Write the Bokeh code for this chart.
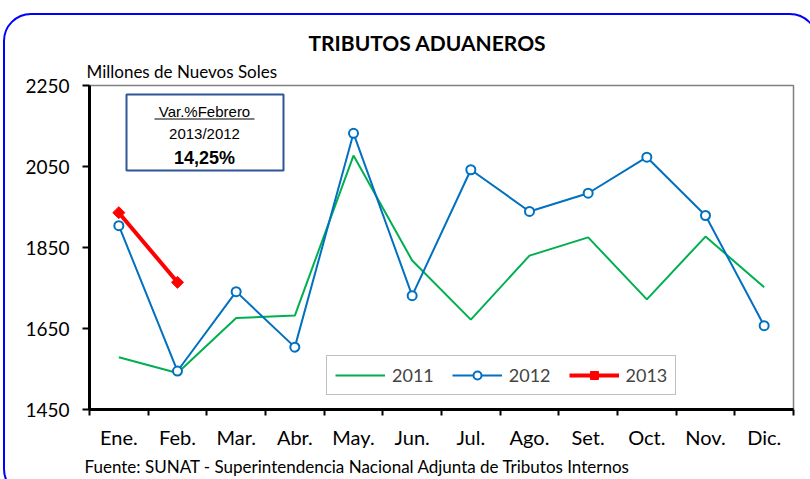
from bokeh.plotting import figure
from bokeh.models import (Range1d, FixedTicker, LinearAxis, Legend, LegendItem,
                          Label, BoxAnnotation, Title, InlineStyleSheet)
from bokeh.embed import file_html
from bokeh.resources import INLINE
import numpy as np

months = ["Ene.", "Feb.", "Mar.", "Abr.", "May.", "Jun.", "Jul.", "Ago.",
          "Set.", "Oct.", "Nov.", "Dic."]
y2011 = [1579, 1540, 1676, 1682, 2077, 1818, 1672, 1830, 1875, 1722, 1877, 1752]
y2012 = [1904, 1545, 1741, 1604, 2132, 1731, 2042, 1939, 1984, 2073, 1929, 1657]
y2013 = [1936, 1764]
y_ticks = [1450, 1650, 1850, 2050, 2250]

title_text = "TRIBUTOS ADUANEROS"
unit_text = "Millones de Nuevos Soles"
source_text = "Fuente: SUNAT - Superintendencia Nacional Adjunta de Tributos Internos"
box_lines = ["Var.%Febrero", "2013/2012", "14,25%"]

FONT = "Lato"
W, H = 810, 479

xs = np.arange(len(months)) + 0.5

p = figure(width=W, height=H, output_backend="svg", toolbar_location=None,
           x_range=Range1d(0, len(months)), y_range=Range1d(y_ticks[0], y_ticks[-1]),
           x_axis_type=None, y_axis_type=None)
p.min_border_left = 89
p.min_border_top = 85
p.min_border_right = 17
p.min_border_bottom = 70
p.grid.visible = False
p.outline_line_color = "#808080"
p.outline_line_width = 1.5
p.background_fill_color = "white"
p.border_fill_color = "white"

# titles
p.title.text = title_text
p.title.align = "left"
p.title.offset = 219
p.title.text_font = FONT
p.title.text_font_size = "21px"
p.title.text_font_style = "bold"
p.title.text_color = "black"
p.title.standoff = 0

sub = Title(text=unit_text, align="left", offset=-3, text_font=FONT,
            text_font_size="17px", text_font_style="normal",
            text_color="black", standoff=8)
p.add_layout(sub, "above")

# x axis: labels at centres, ticks at boundaries
xax = LinearAxis(ticker=FixedTicker(ticks=list(xs),
                                    minor_ticks=list(range(len(months) + 1))))
xax.major_label_overrides = {float(x): m for x, m in zip(xs, months)}
xax.major_tick_line_color = None
xax.major_tick_in = 0
xax.major_tick_out = 8
xax.major_label_standoff = 7
xax.minor_tick_in = 0
xax.minor_tick_out = 6
xax.minor_tick_line_color = "black"
xax.minor_tick_line_width = 2
xax.axis_line_color = "black"
xax.axis_line_width = 3
xax.major_label_text_font = FONT
xax.major_label_text_font_size = "20px"
xax.major_label_text_color = "black"
p.add_layout(xax, "below")

src = Title(text=source_text, align="left", offset=-5, text_font=FONT,
            text_font_size="17px", text_font_style="normal",
            text_color="black", standoff=4)
p.add_layout(src, "below")

yax = LinearAxis(ticker=FixedTicker(ticks=y_ticks, minor_ticks=[]))
yax.major_tick_in = 0
yax.major_tick_out = 7
yax.major_tick_line_width = 2
yax.major_tick_line_color = "black"
yax.major_label_standoff = 13
yax.axis_line_color = "black"
yax.axis_line_width = 3
yax.major_label_text_font = FONT
yax.major_label_text_font_size = "19px"
yax.major_label_text_color = "black"
p.add_layout(yax, "left")

r11 = p.line(xs, y2011, line_color="#00B050", line_width=2)
r12 = p.line(xs, y2012, line_color="#0070C0", line_width=2)
m12 = p.scatter(xs, y2012, marker="circle", size=9, line_color="#0070C0",
                line_width=2, fill_color="white")
x13 = xs[:len(y2013)]
r13 = p.line(x13, y2013, line_color="#FF0000", line_width=4)
m13 = p.scatter(x13, y2013, marker="square", size=8.5, angle=np.pi / 4,
                line_color="#FF0000", fill_color="#FF0000", line_width=1)

legend = Legend(items=[LegendItem(label="2011", renderers=[r11]),
                       LegendItem(label="2012", renderers=[r12, m12]),
                       LegendItem(label="2013", renderers=[r13, m13])],
                orientation="horizontal", location=(237, 14))
legend.label_text_font = FONT
legend.label_text_font_size = "18px"
legend.glyph_width = 50
legend.glyph_height = 20
legend.label_standoff = 7
legend.spacing = 18
legend.padding = 8
legend.margin = 0
legend.border_line_color = "#808080"
legend.border_line_width = 1.5
legend.background_fill_alpha = 1
p.add_layout(legend, "center")

# outer rounded border (page decoration)
p.stylesheets = [InlineStyleSheet(css="""
:host { position: relative; overflow: hidden; }
:host::after {
  content: ""; position: absolute; left: 3px; top: 13px;
  width: 815px; height: 484px; border: 2px solid #0000FF;
  border-radius: 28px; pointer-events: none; box-sizing: border-box;
}
""")]

# annotation box
p.add_layout(BoxAnnotation(left=126, right=283, top=94, bottom=170,
                           left_units="canvas", right_units="canvas",
                           top_units="canvas", bottom_units="canvas",
                           fill_color="white", fill_alpha=1,
                           line_color="#2F5597", line_alpha=1, line_width=2))
p.add_layout(BoxAnnotation(left=154, right=254, top=118, bottom=119,
                           left_units="canvas", right_units="canvas",
                           top_units="canvas", bottom_units="canvas",
                           fill_color="black", fill_alpha=1, line_color=None))

def lab(x, y, text, size, font, style="normal"):
    p.add_layout(Label(x=x, y=y, x_units="canvas", y_units="canvas", text=text,
                       text_font=font, text_font_size=size, text_align="center",
                       text_baseline="middle", text_font_style=style,
                       text_color="black"))

lab(204, 111, box_lines[0], "15px", "Liberation Sans")
lab(204, 133, box_lines[1], "15px", "Liberation Sans")
lab(204, 157, box_lines[2], "18px", "Liberation Sans", style="bold")

open("out.html", "w").write(file_html(p, INLINE))
